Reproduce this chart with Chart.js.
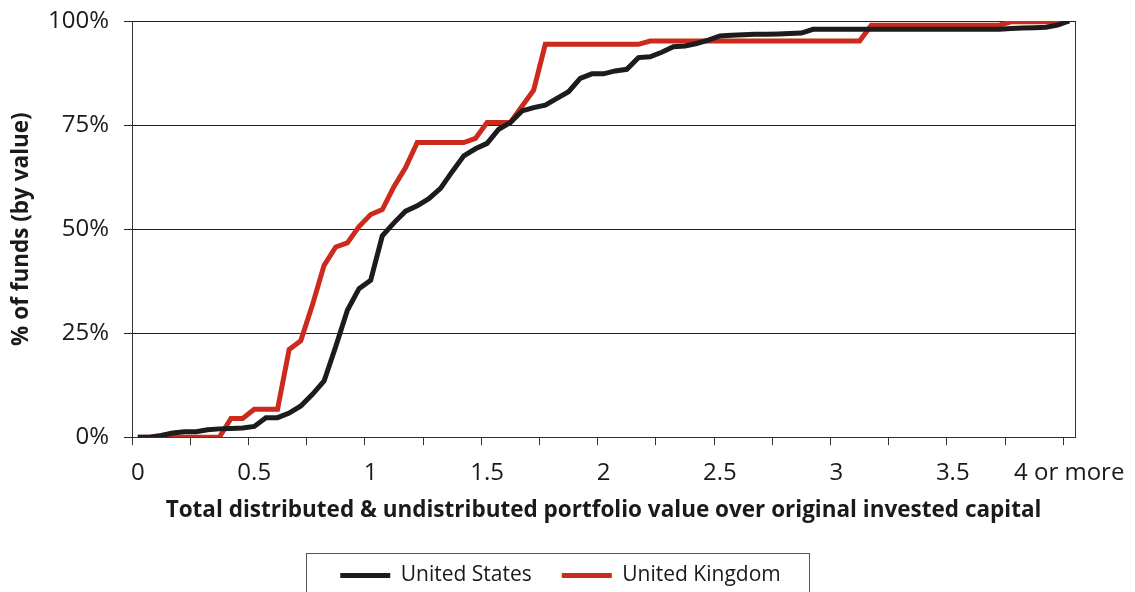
<!DOCTYPE html>
<html>
<head>
<meta charset="utf-8">
<script src="https://cdn.jsdelivr.net/npm/chart.js@4.4.1/dist/chart.umd.min.js"></script>
<style>
  html, body { margin: 0; padding: 0; background: #fff; }
  #wrap { width: 1135px; height: 592px; }
</style>
</head>
<body>
<div id="wrap"><canvas id="fundsChart"></canvas></div>
<script>
// Multiple of invested capital, one category per 0.05 step
const categories = [
  '0', '0.05', '0.1', '0.15', '0.2', '0.25', '0.3', '0.35', '0.4', '0.45',
  '0.5', '0.55', '0.6', '0.65', '0.7', '0.75', '0.8', '0.85', '0.9', '0.95',
  '1', '1.05', '1.1', '1.15', '1.2', '1.25', '1.3', '1.35', '1.4', '1.45',
  '1.5', '1.55', '1.6', '1.65', '1.7', '1.75', '1.8', '1.85', '1.9', '1.95',
  '2', '2.05', '2.1', '2.15', '2.2', '2.25', '2.3', '2.35', '2.4', '2.45',
  '2.5', '2.55', '2.6', '2.65', '2.7', '2.75', '2.8', '2.85', '2.9', '2.95',
  '3', '3.05', '3.1', '3.15', '3.2', '3.25', '3.3', '3.35', '3.4', '3.45',
  '3.5', '3.55', '3.6', '3.65', '3.7', '3.75', '3.8', '3.85', '3.9', '3.95',
  '4 or more'
];

// labels shown under the axis, every 10th category
const xTickLabels = ['0', '0.5', '1', '1.5', '2', '2.5', '3', '3.5', '4 or more'];
const yTickValues = [0, 25, 50, 75, 100];

// cumulative % of funds (by value)
const usValues = [
  0, 0, 0.4, 1.0, 1.3, 1.3, 1.8, 2.0, 2.1, 2.2,
  2.6, 4.7, 4.7, 5.8, 7.5, 10.3, 13.5, 21.8, 30.5, 35.7,
  37.7, 48.4, 51.5, 54.3, 55.6, 57.3, 59.8, 63.8, 67.6, 69.3,
  70.6, 74.0, 75.6, 78.4, 79.2, 79.8, 81.4, 83.0, 86.2, 87.3,
  87.3, 88.0, 88.4, 91.2, 91.4, 92.5, 93.8, 94.0, 94.6, 95.4,
  96.4, 96.6, 96.7, 96.8, 96.8, 96.9, 97.0, 97.1, 98.0, 98.0,
  98.0, 98.0, 98.0, 98.0, 98.0, 98.0, 98.0, 98.0, 98.0, 98.0,
  98.0, 98.0, 98.0, 98.0, 98.0, 98.2, 98.3, 98.4, 98.5, 99.0,
  100
];

const ukValues = [
  0, 0, 0, 0, 0, 0, 0, 0, 4.5, 4.5,
  6.7, 6.7, 6.7, 21.1, 23.2, 31.8, 41.3, 45.7, 46.7, 50.6,
  53.5, 54.7, 60.2, 64.8, 70.8, 70.8, 70.8, 70.8, 70.8, 71.8,
  75.6, 75.6, 75.6, 79.5, 83.4, 94.4, 94.4, 94.4, 94.4, 94.4,
  94.4, 94.4, 94.4, 94.4, 95.2, 95.2, 95.2, 95.2, 95.2, 95.2,
  95.2, 95.2, 95.2, 95.2, 95.2, 95.2, 95.2, 95.2, 95.2, 95.2,
  95.2, 95.2, 95.2, 99.0, 99.0, 99.0, 99.0, 99.0, 99.0, 99.0,
  99.0, 99.0, 99.0, 99.0, 99.0, 99.8, 99.8, 99.8, 99.8, 99.8,
  100
];

const FONT = "'Open Sans', 'Noto Sans', sans-serif";
const INK = '#1a1a1a';
const LEGEND_SHIFT = 23;

// right edge of the plot and the box round the legend
const framePlugin = {
  id: 'frame',
  afterLayout(chart) {
    // nudge the legend to sit where the original one sits
    const lg = chart.legend;
    if (lg) { lg.left += LEGEND_SHIFT; lg.right += LEGEND_SHIFT; }
  },
  beforeDatasetsDraw(chart) {
    const { ctx, chartArea: a } = chart;
    ctx.save();
    ctx.strokeStyle = '#333';
    ctx.lineWidth = 1;
    ctx.beginPath();
    ctx.moveTo(Math.round(a.right) + 0.5, a.top);
    ctx.lineTo(Math.round(a.right) + 0.5, a.bottom);
    ctx.stroke();
    ctx.restore();
  },
  afterDraw(chart) {
    const boxes = chart.legend && chart.legend.legendHitBoxes;
    if (!boxes || !boxes.length) return;
    const first = boxes[0];
    const last = boxes[boxes.length - 1];
    const left = Math.round(first.left - 34) + 0.5;
    const right = Math.round(last.left + last.width + 28) + 0.5;
    const top = Math.round(first.top - 12) + 0.5;
    const { ctx } = chart;
    ctx.save();
    ctx.strokeStyle = '#555';
    ctx.lineWidth = 1;
    ctx.strokeRect(left, top, right - left, chart.height - top + 10);
    ctx.restore();
  }
};

const ctx = document.getElementById('fundsChart').getContext('2d');
new Chart(ctx, {
  type: 'line',
  data: {
    labels: categories,
    datasets: [
      {
        label: 'United States',
        data: usValues,
        borderColor: '#1c1c1c',
        backgroundColor: '#1c1c1c',
        borderWidth: 5,
        pointRadius: 0,
        tension: 0
      },
      {
        label: 'United Kingdom',
        data: ukValues,
        borderColor: '#cc2a1d',
        backgroundColor: '#cc2a1d',
        borderWidth: 5,
        pointRadius: 0,
        tension: 0
      }
    ]
  },
  options: {
    responsive: true,
    maintainAspectRatio: false,
    animation: false,
    layout: { padding: { left: 0, right: 60, top: 21, bottom: -4 } },
    scales: {
      x: {
        type: 'category',
        offset: true,
        // "4 or more" fits inside the right margin as it is
        afterFit: scale => { scale.paddingRight = 50; },
        grid: {
          offset: true,
          drawOnChartArea: false,
          drawTicks: true,
          tickLength: 8,
          color: c => (c.index !== undefined && c.index % 5 === 0) ? '#333' : 'rgba(0,0,0,0)'
        },
        border: { display: true, color: '#333' },
        ticks: {
          autoSkip: false,
          maxRotation: 0,
          padding: 14,
          color: INK,
          font: { family: FONT, size: 24 },
          callback: (val, i) => (i % 10 === 0 ? xTickLabels[i / 10] : '')
        },
        title: {
          display: true,
          text: 'Total distributed & undistributed portfolio value over original invested capital',
          color: INK,
          font: { family: FONT, size: 22.5, weight: 'bold' },
          padding: { top: -5, bottom: 11 }
        }
      },
      y: {
        min: 0,
        max: 100,
        afterBuildTicks: scale => { scale.ticks = yTickValues.map(v => ({ value: v })); },
        // the 100% label may overhang the top of the plot
        afterFit: scale => { scale.paddingTop = 10; },
        grid: { color: '#222', tickLength: 8 },
        border: { display: true, color: '#333' },
        ticks: {
          padding: 15,
          color: INK,
          font: { family: FONT, size: 24 },
          callback: v => v + '%'
        },
        title: {
          display: true,
          text: '% of funds (by value)',
          color: INK,
          font: { family: FONT, size: 22.5, weight: 'bold' },
          padding: { top: 8, bottom: -2 }
        }
      }
    },
    plugins: {
      legend: {
        position: 'bottom',
        labels: {
          color: INK,
          font: { family: FONT, size: 21 },
          usePointStyle: true,
          pointStyle: 'line',
          pointStyleWidth: 50,
          boxWidth: 50,
          boxHeight: 5,
          padding: 30
        }
      },
      tooltip: { enabled: false }
    }
  },
  plugins: [framePlugin]
});
</script>
</body>
</html>
